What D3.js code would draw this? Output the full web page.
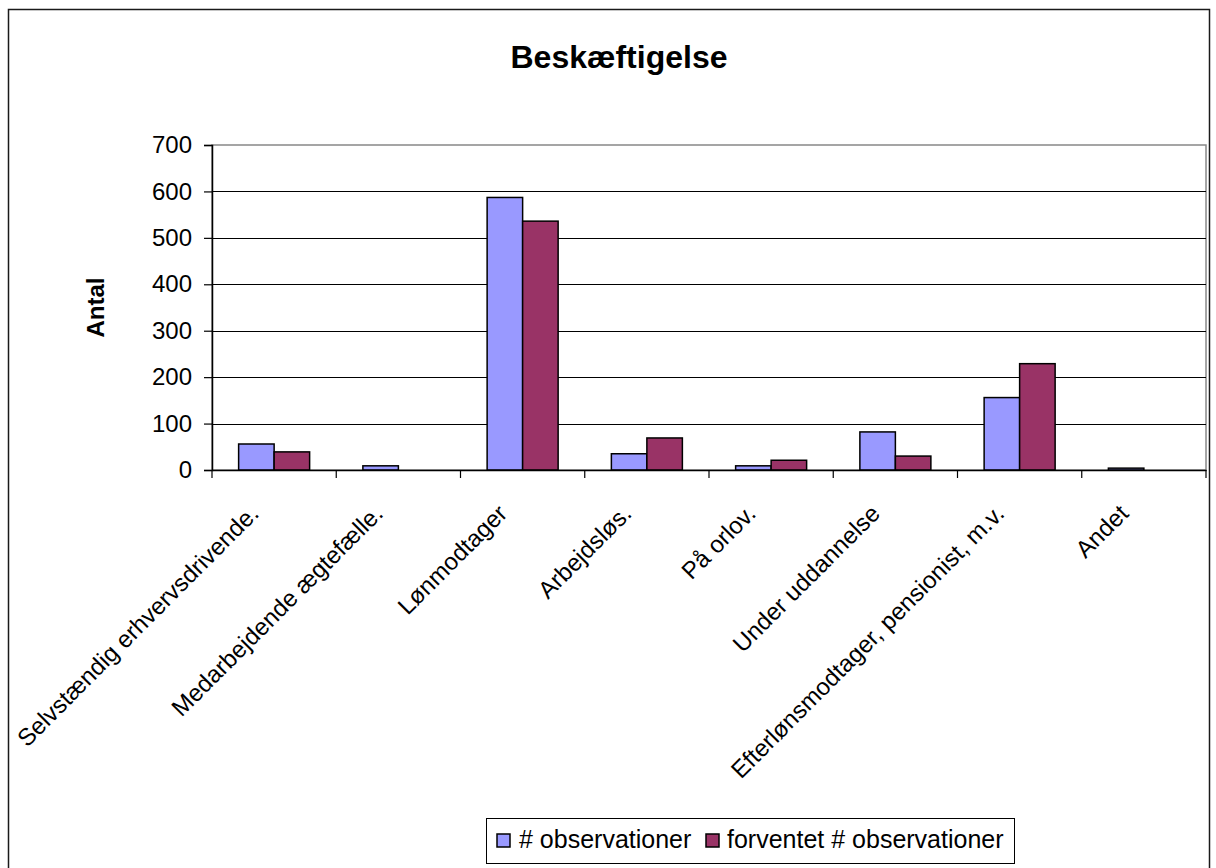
<!DOCTYPE html>
<html>
<head>
<meta charset="utf-8">
<script src="https://cdn.jsdelivr.net/npm/d3@7"></script>
<style>
  html, body { margin: 0; padding: 0; background: #fff; }
  svg { display: block; font-family: "Liberation Sans", Arial, sans-serif; }
</style>
</head>
<body>
<svg id="chart" width="1216" height="868"></svg>
<script>
// Employment categories and the two series
const categories = [
  "Selvstændig erhvervsdrivende.",
  "Medarbejdende ægtefælle.",
  "Lønmodtager",
  "Arbejdsløs.",
  "På orlov.",
  "Under uddannelse",
  "Efterlønsmodtager, pensionist, m.v.",
  "Andet"
];
const observed = [56, 9, 587, 35, 9, 82, 156, 4];
const expected = [39, 0, 536, 69, 21, 30, 229, 0];
const seriesNames = ["# observationer", "forventet # observationer"];
const seriesColors = ["#9999FF", "#993366"];
const yTicks = [0, 100, 200, 300, 400, 500, 600, 700];

const svg = d3.select("#chart");

// outer chart frame
svg.append("rect")
  .attr("x", 8.5).attr("y", 9.5)
  .attr("width", 1201).attr("height", 870)
  .attr("fill", "#fff").attr("stroke", "#1a1a1a").attr("stroke-width", 1.5);

const plot = { left: 212, right: 1206, top: 145, bottom: 470 };

const x0 = d3.scaleBand().domain(categories).range([plot.left, plot.right]).padding(0);
// gap width 150% between groups
const bw = x0.bandwidth();
const x1 = d3.scaleBand().domain([0, 1])
  .range([bw * 0.75 / 3.5, bw * 2.75 / 3.5]).padding(0);
const y = d3.scaleLinear().domain([0, 700]).range([plot.bottom, plot.top]);

// plot area border (gray)
svg.append("rect")
  .attr("x", plot.left).attr("y", plot.top)
  .attr("width", plot.right - plot.left).attr("height", plot.bottom - plot.top)
  .attr("fill", "none").attr("stroke", "#888").attr("stroke-width", 1.5);

// horizontal gridlines
svg.append("g").selectAll("line")
  .data(yTicks.filter(d => d > 0 && d < 700))
  .join("line")
  .attr("x1", plot.left).attr("x2", plot.right)
  .attr("y1", d => Math.round(y(d)) + 0.5).attr("y2", d => Math.round(y(d)) + 0.5)
  .attr("stroke", "#000").attr("stroke-width", 1);

// bars
const rows = categories.map((c, i) => ({ cat: c, vals: [observed[i], expected[i]] }));
const groups = svg.append("g").selectAll("g")
  .data(rows).join("g")
  .attr("transform", d => `translate(${x0(d.cat)},0)`);
groups.selectAll("rect")
  .data(d => d.vals.map((v, k) => ({ v, k })).filter(e => e.v > 0))
  .join("rect")
  .attr("x", e => x1(e.k))
  .attr("width", x1.bandwidth())
  .attr("y", e => y(e.v))
  .attr("height", e => y(0) - y(e.v))
  .attr("fill", e => seriesColors[e.k])
  .attr("stroke", "#000").attr("stroke-width", 1.5);

// y axis
const yAxis = d3.axisLeft(y).tickValues(yTicks).tickSize(8).tickPadding(12);
const gy = svg.append("g").attr("transform", `translate(${plot.left},0)`).call(yAxis);
gy.select(".domain").attr("stroke", "#000").attr("stroke-width", 1.5);
gy.selectAll(".tick line").attr("stroke", "#000").attr("stroke-width", 1.2);
gy.selectAll(".tick text")
  .attr("font-size", 24).attr("font-family", "Liberation Sans, Arial, sans-serif").attr("fill", "#000");

// x axis
const xAxis = d3.axisBottom(x0).tickSize(0).tickFormat("");
const gx = svg.append("g").attr("transform", `translate(0,${plot.bottom})`).call(xAxis);
gx.select(".domain").attr("stroke", "#000").attr("stroke-width", 1.5);
// tick marks on category boundaries
svg.append("g").selectAll("line")
  .data(categories.map(c => x0(c)).concat([plot.right]))
  .join("line")
  .attr("x1", d => d).attr("x2", d => d)
  .attr("y1", plot.bottom).attr("y2", plot.bottom + 8)
  .attr("stroke", "#000").attr("stroke-width", 1.2);

// rotated category labels
svg.append("g").selectAll("text")
  .data(categories).join("text")
  .attr("transform", d => `translate(${x0(d) + bw / 2 - 14},${plot.bottom + 45}) rotate(-45)`)
  .attr("text-anchor", "end")
  .attr("font-size", 24)
  .attr("fill", "#000")
  .text(d => d);

// title
svg.append("text")
  .attr("x", 619).attr("y", 68)
  .attr("text-anchor", "middle")
  .attr("font-size", 32).attr("font-weight", "bold")
  .text("Beskæftigelse");

// y axis title
svg.append("text")
  .attr("transform", `translate(104,${(plot.top + plot.bottom) / 2}) rotate(-90)`)
  .attr("text-anchor", "middle")
  .attr("font-size", 24).attr("font-weight", "bold")
  .text("Antal");

// legend
const legend = svg.append("g");
const legendItems = [
  { name: seriesNames[0], color: seriesColors[0], sx: 497, tx: 519 },
  { name: seriesNames[1], color: seriesColors[1], sx: 706, tx: 727 }
];
legend.append("rect")
  .attr("x", 486.5).attr("y", 818.5).attr("width", 528).attr("height", 45)
  .attr("fill", "#fff").attr("stroke", "#000").attr("stroke-width", 1);
legend.selectAll("rect.sw").data(legendItems).join("rect")
  .attr("class", "sw")
  .attr("x", d => d.sx).attr("y", 834).attr("width", 13).attr("height", 13)
  .attr("fill", d => d.color).attr("stroke", "#000").attr("stroke-width", 1.5);
legend.selectAll("text").data(legendItems).join("text")
  .attr("x", d => d.tx).attr("y", 848)
  .attr("font-size", 25).attr("fill", "#000")
  .text(d => d.name);
</script>
</body>
</html>
